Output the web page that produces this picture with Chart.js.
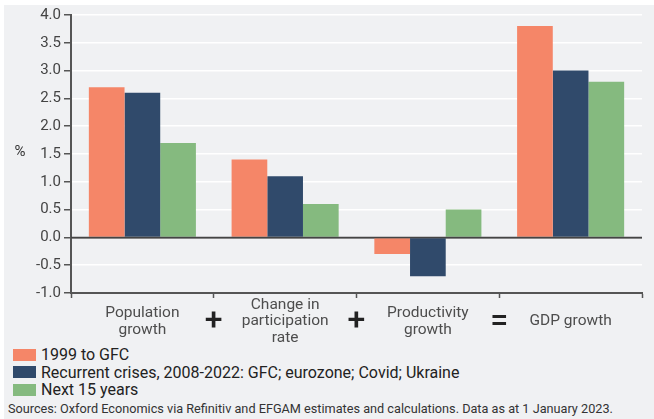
<!DOCTYPE html>
<html><head><meta charset="utf-8">
<script src="https://cdn.jsdelivr.net/npm/chart.js@4.4.0/dist/chart.umd.min.js"></script>
<style>
body{margin:0;background:#fff;width:654px;height:419px;overflow:hidden;position:relative;font-family:Roboto,sans-serif}
#panel{position:absolute;left:4px;top:5px;right:0;bottom:0;background:#f0f1f3}
#wrap{position:absolute;left:0;top:0;width:654px;height:345px}
#legend{position:absolute;left:13px;top:346px}
.item{display:flex;align-items:center;height:17.5px;font-size:16px;color:#222;white-space:nowrap}
.box{width:23px;height:12px;margin-right:5px;flex:none}
#source{position:absolute;left:8px;top:401px;font-size:12.7px;line-height:15px;color:#333;white-space:nowrap}
</style></head>
<body>
<div id="panel"></div>
<div id="wrap"><canvas id="c"></canvas></div>
<div id="legend"></div>
<div id="source">Sources: Oxford Economics via Refinitiv and EFGAM estimates and calculations. Data as at 1 January 2023.</div>
<script>
const categories = [["Population","growth"],["Change in","participation","rate"],["Productivity","growth"],"GDP growth"];
const operators = ["+","+","="];
const seriesNames = ["1999 to GFC","Recurrent crises, 2008-2022: GFC; eurozone; Covid; Ukraine","Next 15 years"];
const preGFC = [2.7, 1.4, -0.3, 3.8];
const crises = [2.6, 1.1, -0.7, 3.0];
const next15 = [1.7, 0.6, 0.5, 2.8];
const yMin = -1, yMax = 4, yStep = 0.5;
const colors = ["#f58668","#304a6b","#85ba7f"];

const FONT = "Roboto, sans-serif";
const dark = "#555";

const overlay = {
  id:'overlay',
  afterDatasetsDraw(chart){
    const {ctx, scales:{x,y}, chartArea:a} = chart;
    ctx.save();
    const y0 = y.getPixelForValue(0);
    ctx.strokeStyle = '#444'; ctx.lineWidth = 1.5;
    ctx.beginPath(); ctx.moveTo(a.left, y0); ctx.lineTo(a.right, y0); ctx.stroke();
    ctx.fillStyle = '#333'; ctx.font = "15px " + FONT;
    ctx.textAlign = 'center'; ctx.textBaseline = 'middle';
    ctx.fillText('%', 20, 152);
    ctx.fillStyle = '#222'; ctx.font = "500 32px " + FONT;
    operators.forEach((op,i)=>{
      const px = (x.getPixelForValue(i) + x.getPixelForValue(i+1))/2;
      ctx.fillText(op, px, 322);
    });
    ctx.restore();
  }
};

const data = {
  labels: categories,
  datasets: [preGFC, crises, next15].map((d,i)=>({
    label: seriesNames[i], data: d, backgroundColor: colors[i], borderWidth:0,
    categoryPercentage:0.75, barPercentage:1
  }))
};

new Chart(document.getElementById('c'), {
  type:'bar',
  data,
  plugins:[overlay],
  options:{
    responsive:true, maintainAspectRatio:false, animation:false,
    layout:{padding:{top:15,right:12,left:0,bottom:0}},
    plugins:{legend:{display:false}, tooltip:{enabled:false}},
    scales:{
      x:{
        ticks:{color:'#4d4d4d',font:{size:15.5,family:FONT,lineHeight:1.07},crossAlign:'center',padding:7,maxRotation:0,autoSkip:false},
        border:{display:true,color:dark,width:2},
        grid:{offset:true,drawOnChartArea:false,drawTicks:true,tickLength:5,tickColor:dark,tickWidth:1.5},
        afterFit:s=>{s.height=52;}
      },
      y:{
        min:yMin,max:yMax,
        ticks:{stepSize:yStep,callback:v=>Number(v).toFixed(1),color:'#444',font:{size:15,family:FONT},padding:3},
        border:{display:true,color:dark,width:2},
        grid:{color:c=>(c.tick&&c.tick.value<=yMin)?dark:(c.tick&&c.tick.value===0?'#444':'#fff'),lineWidth:1.5,drawTicks:true,tickLength:7,tickColor:dark,tickWidth:1.5},
        afterFit:s=>{s.width=71;}
      }
    }
  }
});

const lg = document.getElementById('legend');
seriesNames.forEach((n,i)=>{
  const it = document.createElement('div'); it.className='item';
  const b = document.createElement('span'); b.className='box'; b.style.background=colors[i];
  const t = document.createElement('span'); t.textContent=n;
  it.appendChild(b); it.appendChild(t); lg.appendChild(it);
});
</script>
</body></html>
